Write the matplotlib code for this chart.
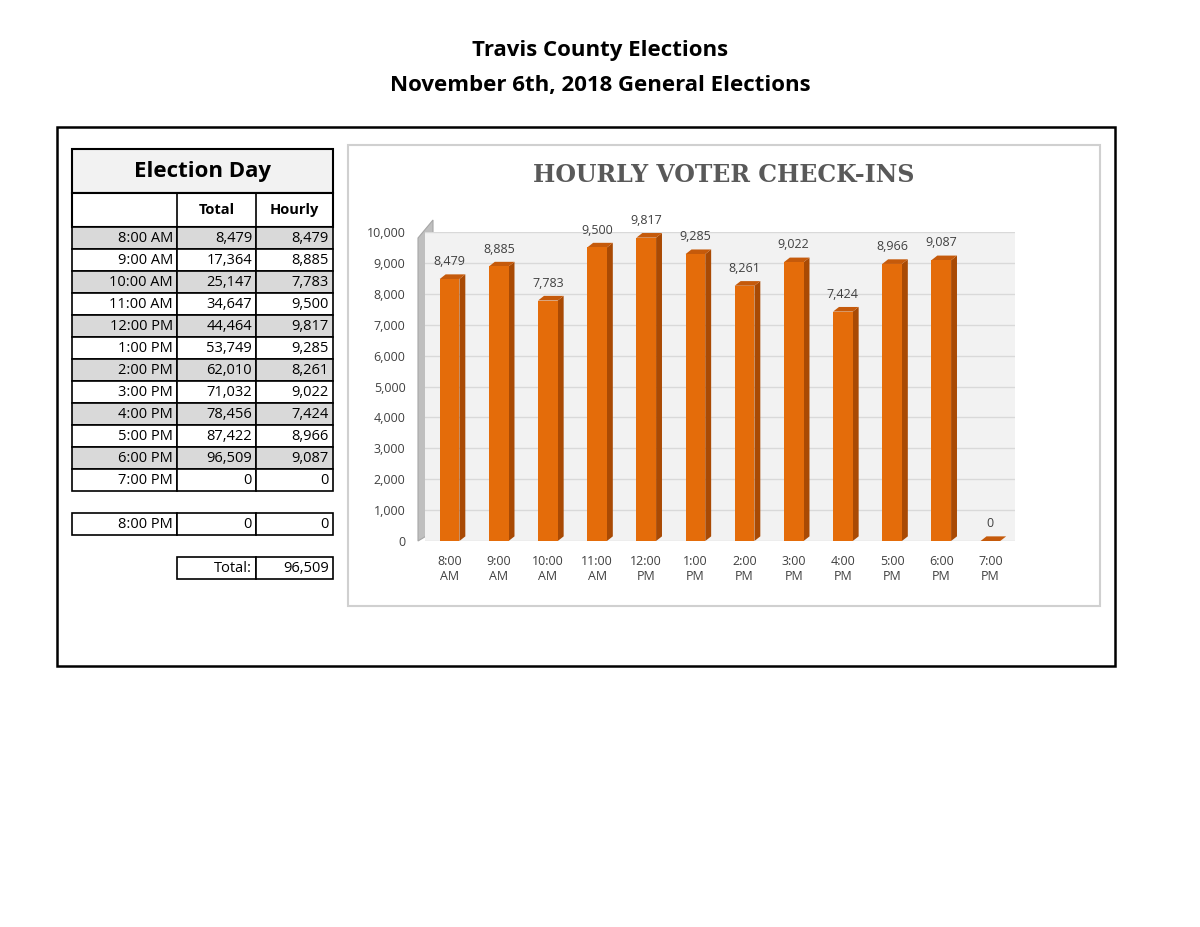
import matplotlib
matplotlib.use("Agg")
import matplotlib.pyplot as plt
from matplotlib.patches import Rectangle, Polygon

times = ["8:00 AM","9:00 AM","10:00 AM","11:00 AM","12:00 PM","1:00 PM","2:00 PM",
         "3:00 PM","4:00 PM","5:00 PM","6:00 PM","7:00 PM"]
totals = [8479,17364,25147,34647,44464,53749,62010,71032,78456,87422,96509,0]
hourly = [8479,8885,7783,9500,9817,9285,8261,9022,7424,8966,9087,0]
xlabels = ["8:00\nAM","9:00\nAM","10:00\nAM","11:00\nAM","12:00\nPM","1:00\nPM","2:00\nPM",
           "3:00\nPM","4:00\nPM","5:00\nPM","6:00\nPM","7:00\nPM"]
grand_total = 96509

W, H = 1200, 927
fig = plt.figure(figsize=(12, 9.27), dpi=100)
bg = fig.add_axes([0, 0, 1, 1])
bg.set_xlim(0, W); bg.set_ylim(H, 0); bg.axis("off")

font = "Open Sans"
bg.text(600, 50, "Travis County Elections", ha="center", va="center", fontsize=16, fontweight="bold", family=font)
bg.text(600, 85, "November 6th, 2018 General Elections", ha="center", va="center", fontsize=16, fontweight="bold", family=font)
bg.add_patch(Rectangle((57, 127), 1058, 539, fill=False, lw=1.8, ec="black"))

# table
c0, c1, c2, c3 = 72, 177, 256, 333
bg.add_patch(Rectangle((c0, 149), c3-c0, 44, fc="#f2f2f2", ec="black", lw=1.5))
bg.text((c0+c3)/2, 171, "Election Day", ha="center", va="center", fontsize=16, fontweight="bold", family=font)
bg.add_patch(Rectangle((c0, 193), c3-c0, 34, fc="white", ec="black", lw=1.5))
for x in (c1, c2):
    bg.plot([x, x], [193, 227], color="black", lw=1.2)
bg.text((c1+c2)/2, 210, "Total", ha="center", va="center", fontsize=10.5, fontweight="bold", family=font)
bg.text((c2+c3)/2, 210, "Hourly", ha="center", va="center", fontsize=10.5, fontweight="bold", family=font)
rh = 22
for i, t in enumerate(times):
    y = 227 + i*rh
    fc = "#d9d9d9" if i % 2 == 0 and i < 11 else "white"
    for a, b in ((c0, c1), (c1, c2), (c2, c3)):
        bg.add_patch(Rectangle((a, y), b-a, rh, fc=fc, ec="black", lw=1.2))
    bg.text(c1-4, y+rh/2, t, ha="right", va="center", fontsize=10.5, family=font)
    bg.text(c2-4, y+rh/2, f"{totals[i]:,}", ha="right", va="center", fontsize=10.5, family=font)
    bg.text(c3-4, y+rh/2, f"{hourly[i]:,}", ha="right", va="center", fontsize=10.5, family=font)
y = 513
for a, b in ((c0, c1), (c1, c2), (c2, c3)):
    bg.add_patch(Rectangle((a, y), b-a, rh, fc="white", ec="black", lw=1.2))
bg.text(c1-4, y+rh/2, "8:00 PM", ha="right", va="center", fontsize=10.5, family=font)
bg.text(c2-4, y+rh/2, "0", ha="right", va="center", fontsize=10.5, family=font)
bg.text(c3-4, y+rh/2, "0", ha="right", va="center", fontsize=10.5, family=font)
y = 557
for a, b in ((c1, c2), (c2, c3)):
    bg.add_patch(Rectangle((a, y), b-a, rh, fc="white", ec="black", lw=1.2))
bg.text(c2-4, y+rh/2, "Total:", ha="right", va="center", fontsize=10.5, family=font)
bg.text(c3-4, y+rh/2, f"{grand_total:,}", ha="right", va="center", fontsize=10.5, family=font)

# chart frame
bg.add_patch(Rectangle((348, 145), 752, 461, fc="white", ec="#d0d0d0", lw=1.5))
bg.text(724, 175, "HOURLY VOTER CHECK-INS", ha="center", va="center", fontsize=17,
        fontweight="bold", family="DejaVu Serif", color="#595959")
# 3D left wall
bg.add_patch(Polygon([(418, 541), (418, 238), (433, 220), (433, 532)], closed=True, fc="#bfbfbf", ec="#a6a6a6", lw=0.8))

x0, x1, ybot, ytop = 425, 1015, 541, 232
ax = fig.add_axes([x0/W, 1-ybot/H, (x1-x0)/W, (ybot-ytop)/H])
ax.set_xlim(-0.5, len(hourly)-0.5); ax.set_ylim(0, 10000)
ax.set_facecolor("#f2f2f2")
ax.set_yticks(range(0, 10001, 1000))
ax.yaxis.grid(True, color="#d9d9d9", lw=1); ax.set_axisbelow(True)
for s in ax.spines.values(): s.set_visible(False)
ax.set_yticklabels([f"{v:,}" for v in range(0, 10001, 1000)], fontsize=9, family=font, color="#404040")
ax.tick_params(axis="y", length=0, pad=14)
ax.set_xticks(range(len(xlabels)))
ax.set_xticklabels(xlabels, fontsize=9, family=font, color="#404040")
ax.tick_params(axis="x", length=0, pad=10)

bw, dw, dh = 0.40, 0.12, 150
xs = list(range(len(hourly)))
for x, v in zip(xs, hourly):
    ax.add_patch(Polygon([(x+bw/2, 0), (x+bw/2, v), (x+bw/2+dw, v+dh), (x+bw/2+dw, dh)], closed=True, fc="#a94a04", ec="none", zorder=3))
    ax.add_patch(Polygon([(x-bw/2, v), (x-bw/2+dw, v+dh), (x+bw/2+dw, v+dh), (x+bw/2, v)], closed=True, fc="#c55a0b", ec="none", zorder=3))
ax.bar(xs, hourly, width=bw, color="#e46c0a", zorder=3)
for x, v in zip(xs, hourly):
    ax.text(x, v + 350, f"{v:,}", ha="center", va="bottom", fontsize=9, family=font, color="#404040", zorder=4)

fig.savefig("out.png", dpi=100, facecolor="white")
